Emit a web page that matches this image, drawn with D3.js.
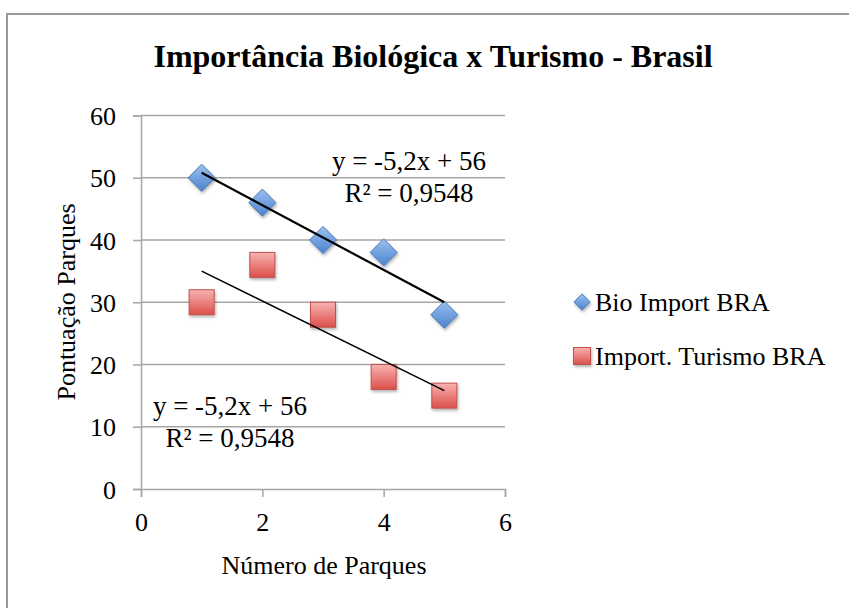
<!DOCTYPE html>
<html>
<head>
<meta charset="utf-8">
<script src="https://cdn.jsdelivr.net/npm/d3@7"></script>
<style>
  body { margin: 0; background: #fff; }
  text { font-family: "Liberation Serif", "Times New Roman", serif; }
</style>
</head>
<body>
<svg id="chart"></svg>
<script>
// data
var parques = [1, 2, 3, 4, 5]
var bioImport = [50, 46, 40, 38, 28]
var turismoImport = [30, 36, 28, 18, 15]
var seriesNames = ["Bio Import BRA", "Import. Turismo BRA"]
var xTicks = [0, 2, 4, 6]
var yTicks = [0, 10, 20, 30, 40, 50, 60]
// equation labels as printed on the chart (both say the same thing)
var eqLabels = [["y = -5,2x + 56", "R² = 0,9548"], ["y = -5,2x + 56", "R² = 0,9548"]]

var dimensions = {
  width: 849,
  height: 608,
  margin: {
    top: 115.5,
    bottom: 119,
    right: 344,
    left: 141
  }
}

var svg = d3.select("#chart")
  .attr("width", dimensions.width)
  .attr("height", dimensions.height)

var defs = svg.append("defs")

var blueGrad = defs.append("linearGradient").attr("id", "blueGrad")
  .attr("x1", 0).attr("y1", 0).attr("x2", 0).attr("y2", 1)
blueGrad.append("stop").attr("offset", "0%").attr("stop-color", "#9cc0ee")
blueGrad.append("stop").attr("offset", "100%").attr("stop-color", "#4a83cf")

var redGrad = defs.append("linearGradient").attr("id", "redGrad")
  .attr("x1", 0).attr("y1", 0).attr("x2", 0).attr("y2", 1)
redGrad.append("stop").attr("offset", "0%").attr("stop-color", "#f8b3b1")
redGrad.append("stop").attr("offset", "100%").attr("stop-color", "#dc4f4b")

var shadow = defs.append("filter").attr("id", "shadow")
  .attr("x", "-30%").attr("y", "-30%").attr("width", "170%").attr("height", "170%")
shadow.append("feDropShadow")
  .attr("dx", 1).attr("dy", 2).attr("stdDeviation", 1.5)
  .attr("flood-color", "#000").attr("flood-opacity", 0.3)

// outer frame of the chart
svg.append("rect")
  .attr("x", 7)
  .attr("y", 14)
  .attr("width", 900)
  .attr("height", 700)
  .attr("fill", "none")
  .attr("stroke", "#9a9a9a")
  .attr("stroke-width", 2)

var xScale = d3.scaleLinear()
  .domain([0, 6])
  .range([dimensions.margin.left, dimensions.width - dimensions.margin.right])

var yScale = d3.scaleLinear()
  .domain([0, 60])
  .range([dimensions.height - dimensions.margin.bottom, dimensions.margin.top])

// gridlines
svg.append("g")
  .selectAll("line")
  .data(yTicks.filter(d => d > 0))
  .enter().append("line")
  .attr("x1", xScale(0))
  .attr("x2", xScale(6))
  .attr("y1", d => yScale(d))
  .attr("y2", d => yScale(d))
  .attr("stroke", "#a6a6a6")
  .attr("stroke-width", 1.5)

// axes
var xAxisGen = d3.axisBottom(xScale).tickValues(xTicks).tickFormat(d3.format("d")).tickSize(8).tickPadding(16)
var xAxis = svg.append("g")
  .attr("transform", `translate(0,${yScale(0)})`)
  .call(xAxisGen)

var yAxisGen = d3.axisLeft(yScale).tickValues(yTicks).tickFormat(d3.format("d")).tickSize(8).tickPadding(17)
var yAxis = svg.append("g")
  .attr("transform", `translate(${xScale(0)},0)`)
  .call(yAxisGen)

svg.selectAll(".domain").attr("stroke", "#a6a6a6").attr("stroke-width", 1.5)
svg.selectAll(".tick line").attr("stroke", "#a6a6a6").attr("stroke-width", 1.5)
xAxis.selectAll("text")
  .attr("font-family", "'Liberation Serif', serif")
  .attr("font-size", "26px")
  .attr("fill", "#000")
yAxis.selectAll("text")
  .attr("font-family", "'Liberation Serif', serif")
  .attr("font-size", "26px")
  .attr("dy", "0.35em")
  .attr("fill", "#000")

// regression lines computed from the data
function fit(xs, ys) {
  var mx = d3.mean(xs), my = d3.mean(ys)
  var num = d3.sum(xs, (x, i) => (x - mx) * (ys[i] - my))
  var den = d3.sum(xs, x => (x - mx) * (x - mx))
  var slope = num / den
  return { slope: slope, intercept: my - slope * mx }
}

var fits = [fit(parques, bioImport), fit(parques, turismoImport)]
var lineWidths = [2.2, 1.6]
var x0 = d3.min(parques), x1 = d3.max(parques)

// markers
var diamond = d3.symbol().type(d3.symbolDiamond2).size(470)

svg.append("g")
  .selectAll("path")
  .data(parques.map((x, i) => ({ x: x, y: bioImport[i] })))
  .enter().append("path")
  .attr("d", diamond)
  .attr("transform", d => `translate(${xScale(d.x)},${yScale(d.y)})`)
  .attr("fill", "url(#blueGrad)")
  .attr("stroke", "#4a7ebb")
  .attr("stroke-width", 1)
  .attr("filter", "url(#shadow)")

var sq = 25
svg.append("g")
  .selectAll("rect")
  .data(parques.map((x, i) => ({ x: x, y: turismoImport[i] })))
  .enter().append("rect")
  .attr("x", d => xScale(d.x) - sq / 2)
  .attr("y", d => yScale(d.y) - sq / 2)
  .attr("width", sq)
  .attr("height", sq)
  .attr("fill", "url(#redGrad)")
  .attr("stroke", "#c0504d")
  .attr("stroke-width", 1)
  .attr("filter", "url(#shadow)")

svg.append("g")
  .selectAll("line")
  .data(fits)
  .enter().append("line")
  .attr("x1", xScale(x0))
  .attr("x2", xScale(x1))
  .attr("y1", d => yScale(d.slope * x0 + d.intercept))
  .attr("y2", d => yScale(d.slope * x1 + d.intercept))
  .attr("stroke", "#000")
  .attr("stroke-width", (d, i) => lineWidths[i])

// equation labels
var eqPos = [[409, 170], [230, 415]]
eqLabels.forEach(function(lbl, i) {
  var t = svg.append("text")
    .attr("text-anchor", "middle")
    .attr("font-size", "27px")
    .attr("fill", "#000")
  t.append("tspan")
    .attr("x", eqPos[i][0])
    .attr("y", eqPos[i][1])
    .text(lbl[0])
  t.append("tspan")
    .attr("x", eqPos[i][0])
    .attr("y", eqPos[i][1] + 32)
    .text(lbl[1])
})

// title
svg.append("text")
  .attr("x", 433)
  .attr("y", 67)
  .attr("text-anchor", "middle")
  .attr("font-size", "32px")
  .attr("font-weight", "bold")
  .text("Importância Biológica x Turismo - Brasil")

// axis titles
svg.append("text")
  .attr("x", 324)
  .attr("y", 574)
  .attr("text-anchor", "middle")
  .attr("font-size", "26px")
  .text("Número de Parques")

svg.append("text")
  .attr("transform", "translate(75,302) rotate(-90)")
  .attr("text-anchor", "middle")
  .attr("font-size", "26px")
  .text("Pontuação Parques")

// legend
var legend = svg.append("g").attr("transform", "translate(582,302)")

legend.append("path")
  .attr("d", d3.symbol().type(d3.symbolDiamond2).size(170))
  .attr("fill", "url(#blueGrad)")
  .attr("stroke", "#4a7ebb")
  .attr("filter", "url(#shadow)")

legend.append("rect")
  .attr("x", -8.5)
  .attr("y", 54 - 8.5)
  .attr("width", 17)
  .attr("height", 17)
  .attr("fill", "url(#redGrad)")
  .attr("stroke", "#c0504d")
  .attr("filter", "url(#shadow)")

legend.selectAll("text")
  .data(seriesNames)
  .enter().append("text")
  .attr("x", 13)
  .attr("y", (d, i) => i * 54 + 9)
  .attr("font-size", "26px")
  .text(d => d)
</script>
</body>
</html>
